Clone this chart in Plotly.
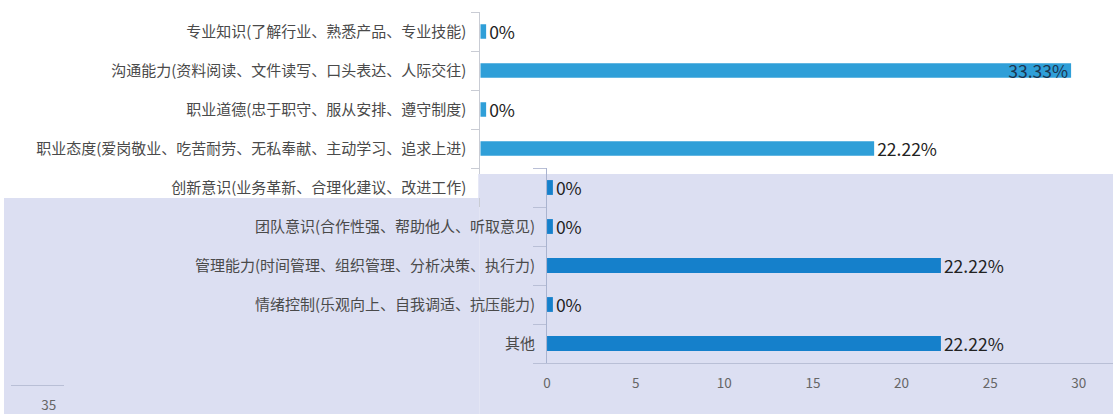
import plotly.graph_objects as go

W, H = 1113, 414

# ---- data ----
categories_top = [
    "专业知识(了解行业、熟悉产品、专业技能)",
    "沟通能力(资料阅读、文件读写、口头表达、人际交往)",
    "职业道德(忠于职守、服从安排、遵守制度)",
    "职业态度(爱岗敬业、吃苦耐劳、无私奉献、主动学习、追求上进)",
    "创新意识(业务革新、合理化建议、改进工作)",
]
values_top = [0, 33.33, 0, 22.22, 0]

categories_bottom = [
    "创新意识(业务革新、合理化建议、改进工作)",
    "团队意识(合作性强、帮助他人、听取意见)",
    "管理能力(时间管理、组织管理、分析决策、执行力)",
    "情绪控制(乐观向上、自我调适、抗压能力)",
    "其他",
]
values_bottom = [0, 0, 22.22, 0, 22.22]

x_ticks = [0, 5, 10, 15, 20, 25, 30]
stray_tick = [35]

# ---- helpers (pixel -> paper) ----
def px(x):
    return x / W

def py(y):
    return 1 - y / H

PPU = 17.79  # pixels per data unit
STUB = 0.33  # minimal visible bar for zero values

def shown(vals):
    return [v if v > 0 else STUB for v in vals]

def pct(vals):
    return [f"{v:g}%" for v in vals]

LABEL_FONT = dict(family="Noto Sans CJK SC", size=15, color="#4a4a4a")
VAL_FONT = dict(family="Noto Sans CJK SC", size=17.5, color="#222222")
TICK_FONT = dict(family="Noto Sans CJK SC", size=13.5, color="#666666")

fig = go.Figure()

top_max = max(values_top)
fig.add_trace(go.Bar(
    y=categories_top, x=shown(values_top), orientation="h",
    xaxis="x", yaxis="y",
    marker=dict(color="#2f9fd8", line=dict(width=0)),
    width=0.37,
    text=pct(values_top),
    textposition=["inside" if v == top_max else "outside" for v in values_top],
    insidetextanchor="end",
    textfont=VAL_FONT,
    insidetextfont=dict(family="Noto Sans CJK SC", size=17.5, color="#1c3550"),
    outsidetextfont=VAL_FONT,
    constraintext="none", cliponaxis=False,
))

fig.add_trace(go.Bar(
    y=categories_bottom, x=shown(values_bottom), orientation="h",
    xaxis="x2", yaxis="y2",
    marker=dict(color="#1580cb", line=dict(width=0)),
    width=0.38,
    text=pct(values_bottom), textposition="outside",
    textfont=VAL_FONT, constraintext="none", cliponaxis=False,
))

# empty trace so the stray axis fragment gets drawn
fig.add_trace(go.Scatter(x=[], y=[], xaxis="x3", yaxis="y3", mode="markers",
                         showlegend=False, hoverinfo="skip"))

top_x0, top_x1 = 478, W
top_y0, top_y1 = 12, 207
bot_x0, bot_x1 = 545, W
bot_y0, bot_y1 = 168, 363

LAV = "#dcdff2"
shapes = [
    dict(type="rect", xref="paper", yref="paper", layer="below",
         x0=px(477), x1=1, y0=0, y1=py(174),
         fillcolor=LAV, line=dict(width=0)),
    dict(type="rect", xref="paper", yref="paper", layer="below",
         x0=0, x1=px(477), y0=0, y1=py(198),
         fillcolor=LAV, line=dict(width=0)),
    # overlay hiding the top chart's last row where the lower chart covers it
    dict(type="rect", xref="paper", yref="paper", layer="above",
         x0=px(476), x1=px(541), y0=py(198), y1=py(174),
         fillcolor=LAV, line=dict(width=0)),
]

fig.update_layout(
    width=W, height=H, autosize=False,
    margin=dict(l=0, r=0, t=0, b=0, pad=0),
    paper_bgcolor="white", plot_bgcolor="rgba(0,0,0,0)",
    showlegend=False, bargap=0.6,
    shapes=shapes,
    xaxis=dict(domain=[px(top_x0), px(top_x1)],
               range=[0, (top_x1 - top_x0) / PPU], anchor="y",
               visible=False, fixedrange=True),
    yaxis=dict(domain=[py(top_y1), py(top_y0)], anchor="x",
               type="category", autorange="reversed",
               categoryorder="array", categoryarray=categories_top,
               showline=True, linecolor="#c9ccd4", linewidth=1,
               ticks="outside", tickson="boundaries", ticklen=8,
               tickcolor="#c9ccd4", showgrid=False, zeroline=False,
               tickfont=LABEL_FONT, ticklabelstandoff=10),
    xaxis2=dict(domain=[px(bot_x0), px(bot_x1)],
                range=[0, (bot_x1 - bot_x0) / PPU], anchor="y2",
                tickvals=x_ticks, ticks="", showgrid=False, zeroline=False,
                showline=True, linecolor="#b9bfd6", linewidth=1,
                tickfont=TICK_FONT, ticklabelstandoff=8),
    yaxis2=dict(domain=[py(bot_y1), py(bot_y0)], anchor="x2",
                type="category", autorange="reversed",
                categoryorder="array", categoryarray=categories_bottom,
                tickvals=categories_bottom,
                ticktext=[""] + categories_bottom[1:],
                showline=True, linecolor="#a9b3cf", linewidth=1,
                ticks="outside", tickson="boundaries", ticklen=13,
                tickcolor="#b9bfd6", showgrid=False, zeroline=False,
                tickfont=LABEL_FONT, ticklabelstandoff=8),
    xaxis3=dict(domain=[px(7), px(60)],
                range=[35 - 38 / PPU, 35 + 15 / PPU], anchor="y3",
                tickvals=stray_tick, ticks="", showgrid=False, zeroline=False,
                showline=True, linecolor="#b9bfd6", linewidth=1,
                tickfont=TICK_FONT, ticklabelstandoff=8),
    yaxis3=dict(domain=[py(385), py(360)], anchor="x3", visible=False,
                range=[0, 1]),
)

fig.write_html("out.html",
               config={"displayModeBar": False},
               post_script="document.body.style.margin='0px';"
                           "document.body.style.overflow='hidden';")
